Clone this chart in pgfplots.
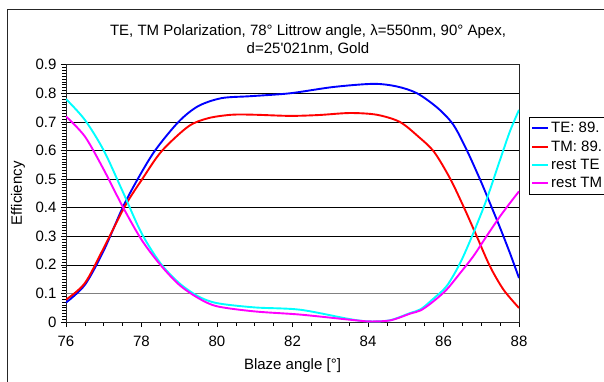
\documentclass[border=0pt]{standalone}
\usepackage{fontspec}
\setmainfont{Liberation Sans}[Ligatures=TeXOff]
\usepackage{pgfplots}
\pgfplotsset{compat=1.18}
\definecolor{cTE}{RGB}{0,0,255}
\definecolor{cTM}{RGB}{255,0,0}
\definecolor{cRTE}{RGB}{0,255,255}
\definecolor{cRTM}{RGB}{255,0,255}
\begin{document}
\begin{tikzpicture}[x=1pt,y=1pt]
\useasboundingbox (0,0) rectangle (604,-381);
\draw[line width=1pt, black!85] (7,-400) -- (7,-9) -- (640,-9);
\begin{axis}[
  at={(66pt,-322pt)}, anchor=south west,
  scale only axis, width=453pt, height=257.3pt,
  xmin=76, xmax=88, ymin=0, ymax=0.9,
  xtick={76,78,80,82,84,86,88},
  ytick={0,0.1,0.2,0.3,0.4,0.5,0.6,0.7,0.8,0.9},
  minor x tick num=3, minor y tick num=9,
  xtick pos=bottom, ytick pos=left,
  tick align=outside, major tick length=5pt, minor tick length=3.5pt,
  ymajorgrids,
  major grid style={black, line width=0.6pt},
  axis line style={black!85, line width=0.9pt},
  tick style={black, line width=0.6pt},
  font=\fontsize{15}{18}\selectfont,
  /pgf/number format/assume math mode=true,
  xticklabel style={yshift=-5pt},
  yticklabel style={xshift=-1pt},
  xlabel={Blaze angle [°]},
  ylabel={Efficiency},
  xlabel style={at={(axis description cs:0.5,-0.171)}, anchor=center},
  ylabel style={at={(axis description cs:-0.106,0.5)}, anchor=center},
  legend style={at={(axis description cs:1.022,0.797)}, anchor=north west,
    draw=black, font=\fontsize{15}{18}\selectfont,
    row sep=2.5pt, inner xsep=2pt, inner ysep=3pt},
  legend cell align=left,
  legend image code/.code={\draw[#1, line width=2pt] (0pt,0pt) -- (16pt,0pt);},
  every axis plot/.append style={line width=1.9pt, smooth},
]
\addplot[gray, line width=1.6pt, forget plot, sharp plot] coordinates {(76,0.1) (88,0.1)};
\addplot[cTE] coordinates {
(76.0,0.068) (76.5,0.13) (77.0,0.25) (77.5,0.40) (77.9,0.50) (78.36,0.60)
(78.98,0.70) (79.5,0.755) (80.12,0.783) (80.9,0.790) (81.93,0.80) (83.08,0.822)
(84.14,0.833) (84.76,0.824) (85.3,0.80) (85.85,0.748) (86.26,0.69) (86.61,0.603)
(86.97,0.498) (87.23,0.416) (87.50,0.329) (87.76,0.241) (88.0,0.154)};
\addlegendentry{\makebox[62pt][l]{TE: 89.}}
\addplot[cTM] coordinates {
(76.0,0.078) (76.5,0.136) (77.0,0.259) (77.56,0.405) (78.02,0.50) (78.53,0.597)
(79.24,0.684) (79.77,0.713) (80.39,0.725) (81.0,0.725) (81.93,0.721) (82.7,0.724)
(83.52,0.731) (84.23,0.725) (84.84,0.70) (85.33,0.649) (85.75,0.595) (86.17,0.503)
(86.53,0.404) (86.88,0.30) (87.23,0.195) (87.59,0.113) (88.0,0.049)};
\addlegendentry{\makebox[62pt][l]{TM: 89.}}
\addplot[cRTE] coordinates {
(76.0,0.78) (76.5,0.707) (77.0,0.60) (77.5,0.457) (78.0,0.311) (78.5,0.206)
(79.0,0.136) (79.5,0.09) (80.0,0.066) (81.0,0.051) (82.2,0.043) (83.52,0.010)
(84.05,0.002) (84.58,0.006) (85.11,0.031) (85.4,0.045) (85.7,0.078) (86.08,0.125)
(86.44,0.206) (86.79,0.311) (87.14,0.428) (87.50,0.568) (87.76,0.667) (88.0,0.742)};
\addlegendentry{\makebox[62pt][l]{rest TE}}
\addplot[cRTM] coordinates {
(76.0,0.719) (76.5,0.649) (77.0,0.533) (77.5,0.404) (78.0,0.288) (78.5,0.20)
(79.0,0.13) (79.5,0.084) (80.0,0.055) (81.0,0.037) (82.2,0.026) (83.52,0.008)
(84.05,0.002) (84.6,0.006) (85.11,0.029) (85.4,0.041) (85.73,0.072) (86.08,0.113)
(86.44,0.171) (86.79,0.23) (87.14,0.30) (87.50,0.37) (87.76,0.416) (88.0,0.457)};
\addlegendentry{\makebox[62pt][l]{rest TM}}
\end{axis}
\node[align=center, font=\fontsize{15}{18}\selectfont] at (308,-40)
  {TE, TM Polarization, 78° Littrow angle, λ=550nm, 90° Apex,\\ d=25'021nm, Gold};
\end{tikzpicture}
\end{document}
